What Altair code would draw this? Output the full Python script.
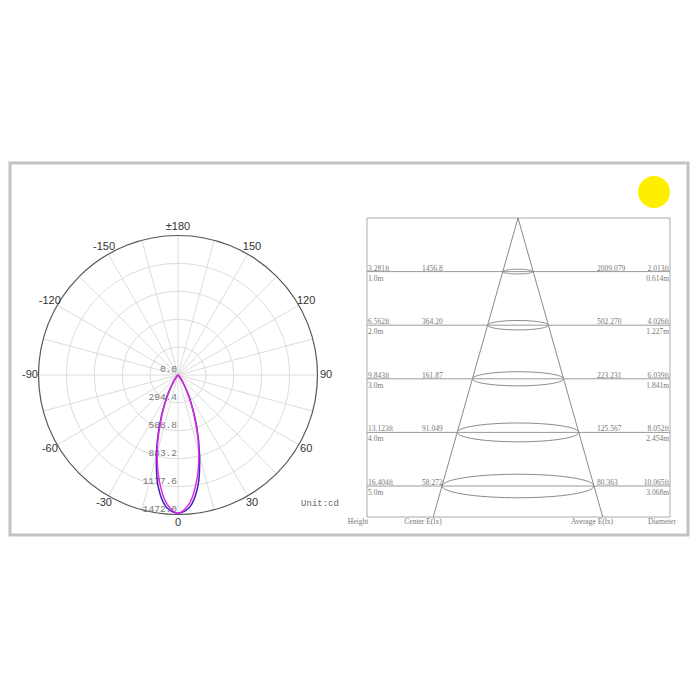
import altair as alt
import pandas as pd
import numpy as np

# ---------------- data ----------------
# polar intensity curves (cd), symmetric, gamma angle from nadir
angles = [0, 5, 10, 15, 20, 25, 30, 35, 40, 45, 50, 55, 60]
blue_cd = [1456.8, 1400, 1200, 880, 575, 332, 166, 72, 27, 9, 3, 1, 0]
magenta_cd = [1456.8, 1362, 1135, 848, 550, 316, 156, 66, 24, 8, 2, 0.5, 0]

ring_values = [0.0, 294.4, 588.8, 883.2, 1177.6, 1472.0]
ring_labels = ["0.0", "294.4", "588.8", "883.2", "1177.6", "1472.0"]
spoke_angles = list(range(0, 360, 15))
angle_ticks = [-150, -120, -90, -60, -30, 0, 30, 60, 90, 120, 150, 180]
angle_labels = ["-150", "-120", "-90", "-60", "-30", "0", "30", "60", "90", "120", "150", "\u00b1180"]

# cone diagram
heights_m = [1, 2, 3, 4, 5]
height_ft_labels = ["3.281ft", "6.562ft", "9.843ft", "13.123ft", "16.404ft"]
height_m_labels = ["1.0m", "2.0m", "3.0m", "4.0m", "5.0m"]
center_E = ["1456.8", "364.20", "161.87", "91.049", "58.272"]
average_E = ["2009.079", "502.270", "223.231", "125.567", "80.363"]
diam_ft_labels = ["2.013ft", "4.026ft", "6.039ft", "8.052ft", "10.065ft"]
diam_m = [0.614, 1.227, 1.841, 2.454, 3.068]
diam_m_labels = ["0.614m", "1.227m", "1.841m", "2.454m", "3.068m"]
footer_labels = ["Height", "Center E(lx)", "Average E(lx)", "Diameter"]

# ---------------- layout (canvas units = page pixels) ----------------
CX, CY, R, IMAX = 178.0, 375.0, 139.5, 1472.0
K = R / IMAX
AX, AY = 518.0, 218.0          # cone apex
PXM_X, PXM_Y = 49.5, 53.6      # px per metre
BOX_L, BOX_R, BOX_T, BOX_B = 367.0, 670.0, 218.0, 517.0
FRAME = dict(x=10, x2=688, y=163, y2=535)

xs = alt.Scale(domain=[8, 692], nice=False, zero=False)
ys = alt.Scale(domain=[8, 692], nice=False, zero=False, reverse=True)


def X(f="x"):
    return alt.X(f + ":Q", scale=xs, axis=None)


def Y(f="y"):
    return alt.Y(f + ":Q", scale=ys, axis=None)


def X2(f="x2"):
    return alt.X2(f + ":Q")


def Y2(f="y2"):
    return alt.Y2(f + ":Q")


# ---- polar curves
rows = []
for name, vals in [("C0-180", blue_cd), ("C90-270", magenta_cd)]:
    order = 0
    seq = [(-a, v) for a, v in zip(angles[::-1], vals[::-1])] + [(a, v) for a, v in zip(angles[1:], vals[1:])]
    for a, v in seq:
        t = np.radians(a)
        rows.append(dict(series=name, o=order, x=CX + v * K * np.sin(t), y=CY + v * K * np.cos(t)))
        order += 1
curves = pd.DataFrame(rows)

rings = pd.DataFrame(dict(v=ring_values[1:], x=CX, y=CY))
rings["size"] = (2 * rings["v"] * K) ** 2
rings["outer"] = rings["v"] >= IMAX

spokes = pd.DataFrame(dict(a=spoke_angles))
spokes["x"] = CX
spokes["y"] = CY
spokes["x2"] = CX + R * np.sin(np.radians(spokes["a"]))
spokes["y2"] = CY + R * np.cos(np.radians(spokes["a"]))

rlab = pd.DataFrame(dict(t=ring_labels, v=ring_values))
rlab["x"] = CX - 1
rlab["y"] = CY + rlab["v"] * K - 6

alab = pd.DataFrame(dict(a=angle_ticks, t=angle_labels))
alab["x"] = CX + 148 * np.sin(np.radians(alab["a"]))
alab["y"] = CY + 148 * np.cos(np.radians(alab["a"]))

# ---- cone
lev = pd.DataFrame(dict(h=heights_m, ft=height_ft_labels, m=height_m_labels,
                        ce=center_E, ae=average_E, dft=diam_ft_labels, d=diam_m, dm=diam_m_labels))
lev["y"] = AY + lev["h"] * PXM_Y
lev["x"] = BOX_L
lev["x2"] = BOX_R

bottom_h = (BOX_B - AY) / PXM_Y
half_slope = diam_m[0] / 2 / heights_m[0]
cone = pd.DataFrame(dict(s=[-1, 1]))
cone["x"] = AX
cone["y"] = AY
cone["x2"] = AX + cone["s"] * half_slope * bottom_h * PXM_X
cone["y2"] = BOX_B

erows = []
tt = np.linspace(0, 2 * np.pi, 73)
for h, d in zip(heights_m, diam_m):
    w = d * PXM_X / 2
    for i, t in enumerate(tt):
        erows.append(dict(h=h, o=i, x=AX + w * np.cos(t), y=AY + h * PXM_Y + 0.155 * w * np.sin(t)))
ell = pd.DataFrame(erows)

box = pd.DataFrame([dict(x=BOX_L, x2=BOX_R, y=BOX_T, y2=BOX_B)])
foot = pd.DataFrame(dict(t=footer_labels, x=[358, 423, 592, 662], y=BOX_B + 5))
frame = pd.DataFrame([FRAME])
sun = pd.DataFrame([dict(x=654, y=192)])

# ---------------- layers ----------------
TXT = "#777777"
small = dict(font="Liberation Serif", fontSize=7.5, color=TXT)

layers = [
    alt.Chart(frame).mark_rect(fillOpacity=0, stroke="#c3c3c3", strokeWidth=3).encode(X(), X2(), Y(), Y2()),
    alt.Chart(sun).mark_circle(size=32 * 32 * 0.785 * 1.27, color="#ffee00", opacity=1).encode(X(), Y()),
    # polar grid
    alt.Chart(spokes).mark_rule(color="#dcdcdc", strokeWidth=1).encode(X(), Y(), X2(), Y2()),
    alt.Chart(rings[~rings["outer"]]).mark_point(shape="circle", filled=False, color="#dcdcdc", strokeWidth=1, opacity=1)
    .encode(X(), Y(), size=alt.Size("size:Q", scale=None, legend=None)),
    alt.Chart(rings[rings["outer"]]).mark_point(shape="circle", filled=False, color="#555555", strokeWidth=1.2, opacity=1)
    .encode(X(), Y(), size=alt.Size("size:Q", scale=None, legend=None)),
    alt.Chart(rlab).mark_text(align="right", baseline="middle", font="Liberation Mono", fontSize=9.5, color=TXT)
    .encode(X(), Y(), text="t:N"),
    alt.Chart(alab).mark_text(align="center", baseline="middle", font="Liberation Sans", fontSize=11, color="#333333")
    .encode(X(), Y(), text="t:N"),
    alt.Chart(curves).mark_line(strokeWidth=1.5, interpolate="catmull-rom")
    .encode(X(), Y(), order="o:Q",
            color=alt.Color("series:N", scale=alt.Scale(domain=["C0-180", "C90-270"], range=["#3a28b8", "#e02ae0"]), legend=None)),
    alt.Chart(pd.DataFrame([dict(t="Unit:cd", x=320, y=503)])).mark_text(align="center", baseline="middle",
                                                                          font="Liberation Mono", fontSize=9, color="#666666")
    .encode(X(), Y(), text="t:N"),
    # cone diagram
    alt.Chart(box).mark_rect(fillOpacity=0, stroke="#a9a9a9", strokeWidth=1).encode(X(), X2(), Y(), Y2()),
    alt.Chart(lev).mark_rule(color="#9a9a9a", strokeWidth=1).encode(X(), X2(), Y()),
    alt.Chart(cone).mark_rule(color="#8a8a8a", strokeWidth=1).encode(X(), Y(), X2(), Y2()),
    alt.Chart(ell).mark_line(color="#8a8a8a", strokeWidth=1).encode(X(), Y(), order="o:Q", detail="h:N"),
    alt.Chart(lev).mark_text(align="left", baseline="alphabetic", dx=1, dy=-1, **small).encode(X(), Y(), text="ft:N"),
    alt.Chart(lev).mark_text(align="left", baseline="alphabetic", dx=1, dy=9, **small).encode(X(), Y(), text="m:N"),
    alt.Chart(lev).mark_text(align="left", baseline="alphabetic", dx=55, dy=-1, **small).encode(X(), Y(), text="ce:N"),
    alt.Chart(lev).mark_text(align="left", baseline="alphabetic", dx=230, dy=-1, **small).encode(X(), Y(), text="ae:N"),
    alt.Chart(lev).mark_text(align="right", baseline="alphabetic", dx=-1, dy=-1, **small).encode(X("x2"), Y(), text="dft:N"),
    alt.Chart(lev).mark_text(align="right", baseline="alphabetic", dx=-1, dy=9, **small).encode(X("x2"), Y(), text="dm:N"),
    alt.Chart(foot).mark_text(align="center", baseline="middle", **small).encode(X(), Y(), text="t:N"),
]

chart = alt.layer(*layers).properties(
    width=684, height=684, padding=0, autosize=alt.AutoSizeParams(type="none"), background="white"
).configure_view(stroke=None)

chart.save("out.html", embed_options={"renderer": "svg", "actions": False})
